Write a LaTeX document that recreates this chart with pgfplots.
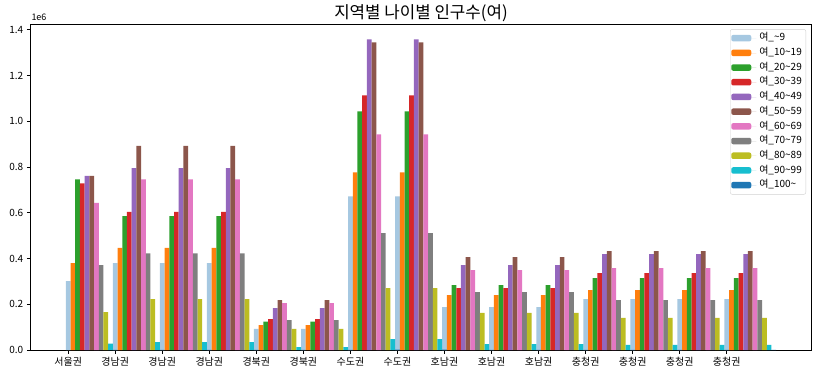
\documentclass[border=0pt]{standalone}
\usepackage{fontspec}
\setmainfont{Noto Sans CJK KR}
\usepackage{pgfplots}
\usepackage{pgfplotstable}
\pgfplotsset{compat=1.18}

\definecolor{c0}{HTML}{A6C8E1}
\definecolor{c1}{HTML}{FF7F0E}
\definecolor{c2}{HTML}{2CA02C}
\definecolor{c3}{HTML}{D62728}
\definecolor{c4}{HTML}{9467BD}
\definecolor{c5}{HTML}{8C564B}
\definecolor{c6}{HTML}{E377C2}
\definecolor{c7}{HTML}{7F7F7F}
\definecolor{c8}{HTML}{BCBD22}
\definecolor{c9}{HTML}{17BECF}
\definecolor{c10}{HTML}{1F77B4}

\pgfplotstableread{
x a0 a1 a2 a3 a4 a5 a6 a7 a8 a9 a10
0 301000 380000 746000 729000 761000 761000 643000 371000 166000 28000 1000
1 380000 447000 585000 604000 795000 892000 746000 423000 223000 35000 1000
2 380000 447000 585000 604000 795000 892000 746000 423000 223000 35000 1000
3 380000 447000 585000 604000 795000 892000 746000 423000 223000 35000 1000
4 92000 109000 124000 135000 183000 218000 205000 131000 92000 13000 500
5 92000 109000 124000 135000 183000 218000 205000 131000 92000 13000 500
6 672000 777000 1043000 1113000 1358000 1345000 943000 511000 271000 48000 1500
7 672000 777000 1043000 1113000 1358000 1345000 943000 511000 271000 48000 1500
8 188000 240000 284000 271000 371000 406000 349000 253000 162000 26000 800
9 188000 240000 284000 271000 371000 406000 349000 253000 162000 26000 800
10 188000 240000 284000 271000 371000 406000 349000 253000 162000 26000 800
11 223000 262000 314000 336000 419000 432000 358000 218000 140000 22000 600
12 223000 262000 314000 336000 419000 432000 358000 218000 140000 22000 600
13 223000 262000 314000 336000 419000 432000 358000 218000 140000 22000 600
14 223000 262000 314000 336000 419000 432000 358000 218000 140000 22000 600
}\data

\pgfplotsset{
  mybar/.style={ybar, bar width=0.1, draw=none,
    legend image code/.code={\fill[##1,draw=none] (0pt,-3pt) rectangle (20pt,3.5pt); \path (20pt,0pt) -- (25pt,0pt);}},
}

\begin{document}
\begin{tikzpicture}
\begin{axis}[
  at={(0pt,0pt)}, anchor=south west,
  scale only axis, width=781.4pt, height=325.7pt,
  clip=false,
  xmin=-0.805, xmax=15.805, ymin=0, ymax=1424000,
  xtick={0,...,14},
  xticklabels={서울권,경남권,경남권,경남권,경북권,경북권,수도권,수도권,호남권,호남권,호남권,충청권,충청권,충청권,충청권},
  ytick={0,200000,400000,600000,800000,1000000,1200000,1400000},
  scaled y ticks=base 10:-6,
  ytick scale label code/.code={},
  yticklabel style={font=\fontsize{10}{11}\selectfont, /pgf/number format/.cd, fixed, fixed zerofill, precision=1, assume math mode=true},
  xticklabel style={font=\fontsize{10}{11}\selectfont},
  tick align=outside, tick pos=left,
  major tick length=3.5pt,
  tick style={black, line width=0.8pt},
  axis line style={line width=0.8pt},
  title={지역별 나이별 인구수(여)},
  title style={font=\fontsize{16.8}{19}\selectfont, at={(0.5,1)}, anchor=base, yshift=-0.5pt},
  legend cell align=left,
  legend style={at={(0.9927,0.985)}, anchor=north east,
    draw=black!18, rounded corners=2pt, fill=white,
    font=\fontsize{10}{11}\selectfont,
    inner xsep=1pt, inner ysep=2pt, row sep=0.7pt,
    nodes={inner xsep=3pt, inner ysep=2.5pt, text height=7pt, text depth=2pt}},
]
\addplot[mybar, fill=c0, bar shift=0] table[x=x, y=a0] {\data};
\addlegendentry{여\_\textasciitilde 9}
\addplot[mybar, fill=c1, bar shift=0.1] table[x=x, y=a1] {\data};
\addlegendentry{여\_10\textasciitilde 19}
\addplot[mybar, fill=c2, bar shift=0.2] table[x=x, y=a2] {\data};
\addlegendentry{여\_20\textasciitilde 29}
\addplot[mybar, fill=c3, bar shift=0.3] table[x=x, y=a3] {\data};
\addlegendentry{여\_30\textasciitilde 39}
\addplot[mybar, fill=c4, bar shift=0.4] table[x=x, y=a4] {\data};
\addlegendentry{여\_40\textasciitilde 49}
\addplot[mybar, fill=c5, bar shift=0.5] table[x=x, y=a5] {\data};
\addlegendentry{여\_50\textasciitilde 59}
\addplot[mybar, fill=c6, bar shift=0.6] table[x=x, y=a6] {\data};
\addlegendentry{여\_60\textasciitilde 69}
\addplot[mybar, fill=c7, bar shift=0.7] table[x=x, y=a7] {\data};
\addlegendentry{여\_70\textasciitilde 79}
\addplot[mybar, fill=c8, bar shift=0.8] table[x=x, y=a8] {\data};
\addlegendentry{여\_80\textasciitilde 89}
\addplot[mybar, fill=c9, bar shift=0.9] table[x=x, y=a9] {\data};
\addlegendentry{여\_90\textasciitilde 99}
\addplot[mybar, fill=c10, bar shift=1.0] table[x=x, y=a10] {\data};
\addlegendentry{여\_100\textasciitilde}
\node[anchor=base west, font=\fontsize{9}{10}\selectfont, inner sep=0pt] at ([xshift=1pt,yshift=4pt]rel axis cs:0,1) {1e6};
\end{axis}
\pgfresetboundingbox
\path (-30.3pt,-26pt) rectangle (790.7pt,350pt);
\end{tikzpicture}
\end{document}
